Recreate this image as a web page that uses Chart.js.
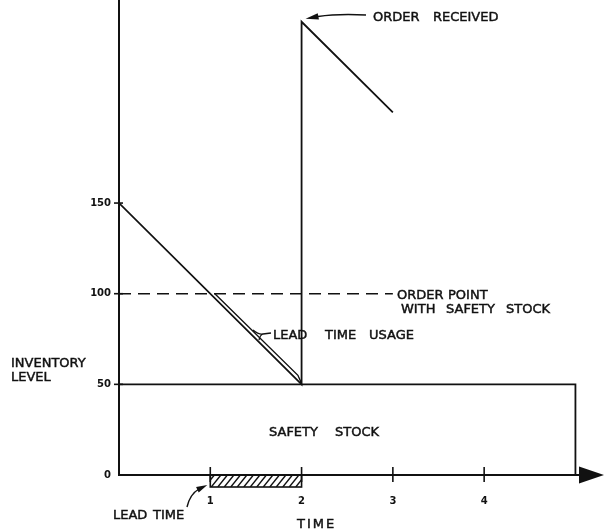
<!DOCTYPE html>
<html>
<head>
<meta charset="utf-8">
<script src="https://cdn.jsdelivr.net/npm/chart.js@4/dist/chart.umd.min.js"></script>
<style>
    body { margin: 0; background: #fff; }
    canvas { display: block; }
</style>
</head>
<body>
<canvas id="grafica" width="604" height="531"></canvas>
<script>

// inventory path: starts at 150, falls to 50, order arrives, jumps to 250
const usageTime = [0, 2, 2, 3];
const usageLevel = [150, 50, 250, 200];

// second line of the "lead time usage" double stroke
const leadUsageTime = [1.05, 1.96, 2];
const leadUsageLevel = [100, 55, 50.5];

const orderPointTime = [0, 3];
const orderPointLevel = [100, 100];

const safetyTime = [0, 5, 5];
const safetyLevel = [50, 50, 0];

const leadTimeSpan = [1, 2];

const xTickValues = [1, 2, 3, 4];
const yTickValues = [0, 50, 100, 150];

const FUENTE = "'DejaVu Sans', sans-serif";

function puntos(xs, ys) {
    return xs.map((x, i) => ({ x: x, y: ys[i] }));
}

function flecha(ctx, tipX, tipY, fromX, fromY, len, half) {
    const ang = Math.atan2(tipY - fromY, tipX - fromX);
    const bx = tipX - Math.cos(ang) * len;
    const by = tipY - Math.sin(ang) * len;
    ctx.beginPath();
    ctx.moveTo(tipX, tipY);
    ctx.lineTo(bx + Math.sin(ang) * half, by - Math.cos(ang) * half);
    ctx.lineTo(bx - Math.sin(ang) * half, by + Math.cos(ang) * half);
    ctx.closePath();
    ctx.fill();
}

// words drawn one by one, lettering in the drawing has uneven gaps
function palabras(ctx, lista, y) {
    lista.forEach(p => {
        ctx.fillText(p[0], p[1], y);
        ctx.strokeText(p[0], p[1], y);
    });
}

const dibujos = {
    id: "dibujos",
    afterDraw(chart) {
        const ctx = chart.ctx;
        const xs = chart.scales.x;
        const ys = chart.scales.y;
        const area = chart.chartArea;
        const y0 = ys.getPixelForValue(0);

        ctx.save();
        ctx.strokeStyle = "#111";
        ctx.fillStyle = "#111";
        ctx.lineWidth = 1.6;

        // tick marks crossing the axes
        yTickValues.filter(v => v > 0).forEach(v => {
            const py = ys.getPixelForValue(v);
            ctx.beginPath();
            ctx.moveTo(area.left - 5, py);
            ctx.lineTo(area.left + 4, py);
            ctx.stroke();
        });
        xTickValues.forEach(v => {
            const px = xs.getPixelForValue(v);
            ctx.beginPath();
            ctx.moveTo(px, y0 - 8);
            ctx.lineTo(px, y0 + 7);
            ctx.stroke();
        });

        // arrow at the end of the time axis
        ctx.beginPath();
        ctx.moveTo(area.right - 1, y0 - 8.5);
        ctx.lineTo(area.right + 24, y0);
        ctx.lineTo(area.right - 1, y0 + 8.5);
        ctx.closePath();
        ctx.fill();

        // hatched lead time bar
        const hx1 = xs.getPixelForValue(leadTimeSpan[0]);
        const hx2 = xs.getPixelForValue(leadTimeSpan[1]);
        const hh = 12;
        ctx.save();
        ctx.beginPath();
        ctx.rect(hx1, y0, hx2 - hx1, hh);
        ctx.clip();
        ctx.lineWidth = 1.4;
        for (let x = hx1 - hh; x < hx2 + hh; x += 6.5) {
            ctx.beginPath();
            ctx.moveTo(x, y0 + hh);
            ctx.lineTo(x + hh * 0.8, y0);
            ctx.stroke();
        }
        ctx.restore();
        ctx.lineWidth = 1.6;
        ctx.strokeRect(hx1, y0, hx2 - hx1, hh);

        // texts
        ctx.textAlign = "left";
        ctx.textBaseline = "alphabetic";
        ctx.font = "13px " + FUENTE;
        ctx.lineWidth = 0.45;

        palabras(ctx, [["ORDER", 373], ["RECEIVED", 433]], 21);
        palabras(ctx, [["ORDER", 397], ["POINT", 448]], 299);
        palabras(ctx, [["WITH", 401], ["SAFETY", 446], ["STOCK", 506]], 313);
        palabras(ctx, [["LEAD", 273], ["TIME", 325], ["USAGE", 369]], 339);
        palabras(ctx, [["SAFETY", 269], ["STOCK", 335]], 436);
        palabras(ctx, [["INVENTORY", 11]], 367);
        palabras(ctx, [["LEVEL", 11]], 381);
        palabras(ctx, [["LEAD", 113], ["TIME", 153]], 519);
        ctx.letterSpacing = "2px";
        palabras(ctx, [["TIME", 297]], 528);
        ctx.letterSpacing = "0px";

        // "order received" arrow towards the peak
        const peakX = xs.getPixelForValue(usageTime[2]);
        const peakY = ys.getPixelForValue(usageLevel[2]);
        ctx.lineWidth = 1.4;
        ctx.beginPath();
        ctx.moveTo(366, 15);
        ctx.quadraticCurveTo(338, 13.5, 318, 16.5);
        ctx.stroke();
        flecha(ctx, peakX + 4, peakY - 3, 320, 16, 13, 3.2);

        // "lead time" arrow towards the hatched bar
        ctx.beginPath();
        ctx.moveTo(187, 507);
        ctx.quadraticCurveTo(190, 494, 199, 489);
        ctx.stroke();
        flecha(ctx, hx1 - 3, y0 + 10, 197, 490, 11, 3);

        // brace for lead time usage
        ctx.lineWidth = 1.3;
        ctx.beginPath();
        ctx.moveTo(253, 330);
        ctx.quadraticCurveTo(259, 335, 263, 334);
        ctx.moveTo(259, 340);
        ctx.quadraticCurveTo(260, 335, 263, 334);
        ctx.lineTo(271, 333);
        ctx.stroke();

        ctx.restore();
    }
};

const ctx = document.getElementById("grafica").getContext("2d");

new Chart(ctx, {
    type: "line",
    data: {
        datasets: [
            {
                label: "Inventory",
                data: puntos(usageTime, usageLevel),
                borderColor: "#111",
                borderWidth: 1.8,
                pointRadius: 0,
                tension: 0
            },
            {
                label: "Lead time usage",
                data: puntos(leadUsageTime, leadUsageLevel),
                borderColor: "#111",
                borderWidth: 1.4,
                pointRadius: 0
            },
            {
                label: "Order point",
                data: puntos(orderPointTime, orderPointLevel),
                borderColor: "#111",
                borderWidth: 1.6,
                borderDash: [12, 7],
                pointRadius: 0
            },
            {
                label: "Safety stock",
                data: puntos(safetyTime, safetyLevel),
                borderColor: "#111",
                borderWidth: 1.8,
                pointRadius: 0
            }
        ]
    },
    options: {
        responsive: false,
        animation: false,
        layout: {
            padding: { top: 0, right: 24, bottom: 0, left: 0 }
        },
        plugins: {
            legend: { display: false },
            tooltip: { enabled: false }
        },
        scales: {
            x: {
                type: "linear",
                min: 0,
                max: 5.05,
                afterBuildTicks: s => { s.ticks = xTickValues.map(v => ({ value: v })); },
                afterFit: s => {
                    s.height = 56;
                    s.paddingLeft = 0;
                    s.paddingRight = 0;
                },
                grid: { display: false },
                border: { display: true, color: "#111", width: 2 },
                ticks: {
                    color: "#111",
                    padding: 12,
                    font: { family: FUENTE, size: 10, weight: "bold" }
                }
            },
            y: {
                type: "linear",
                min: 0,
                max: 262,
                afterBuildTicks: s => { s.ticks = yTickValues.map(v => ({ value: v })); },
                afterFit: s => {
                    s.width = 119;
                    s.paddingTop = 0;
                    s.paddingBottom = 0;
                },
                grid: { display: false },
                border: { display: true, color: "#111", width: 2 },
                ticks: {
                    color: "#111",
                    padding: 0,
                    font: { family: FUENTE, size: 10, weight: "bold" }
                }
            }
        }
    },
    plugins: [dibujos]
});
</script>
</body>
</html>
